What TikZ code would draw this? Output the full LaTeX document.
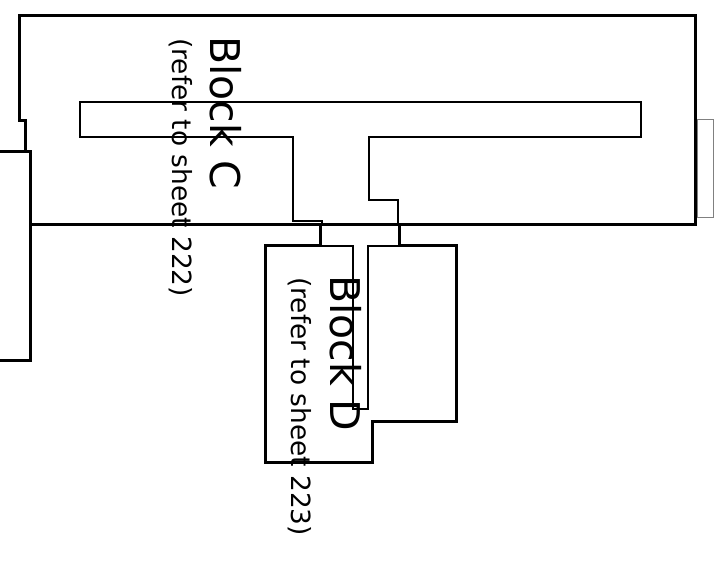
\documentclass[tikz,border=0pt]{standalone}
\usepackage{fontspec}
\setmainfont{DejaVu Sans}
\tikzset{
  heavy/.style={draw=black,line width=3pt,line join=miter},
  fine/.style={draw=black,line width=2pt,line join=miter},
  pale/.style={draw=black!50,line width=1pt},
  title/.style={rotate=-90,anchor=base west,inner sep=0pt,font=\fontsize{41}{41}\selectfont},
  ref/.style={rotate=-90,anchor=base west,inner sep=0pt,font=\fontsize{26.4}{26.4}\selectfont}
}
\begin{document}
\begin{tikzpicture}[x=1pt,y=-1pt]
\useasboundingbox (0,0) rectangle (720,573);
% block C outline
\draw[heavy] (0,151) -- (30,151) -- (30,360) -- (0,360);
\draw[heavy] (30,224) -- (695,224) -- (695,15) -- (19,15) -- (19,120) -- (25,120) -- (25,151);
\draw[pale] (697,119) rectangle (713,217);
% inner T
\draw[fine] (322,224) -- (322,221) -- (293,221) -- (293,137) -- (80,137) -- (80,102) -- (641,102) -- (641,137) -- (369,137) -- (369,200) -- (397.5,200) -- (397.5,224);
% block D outline
\draw[heavy] (320.5,224) -- (320.5,245.5) -- (265.5,245.5) -- (265.5,462) -- (372.5,462) -- (372.5,421) -- (456,421) -- (456,245.5) -- (399,245.5) -- (399,224);
\draw[fine] (320.5,245.5) -- (352.5,245.5) -- (352.5,408.5) -- (368,408.5) -- (368,245.5) -- (399,245.5);
% labels
\node[title] (blockC) at (210,36) {Block C};
\node[ref] (refC) at (172,38) {(refer to sheet 222)};
\node[title] (blockD) at (330,275) {Block D};
\node[ref] (refD) at (291,277) {(refer to sheet 223)};
\end{tikzpicture}
\end{document}
